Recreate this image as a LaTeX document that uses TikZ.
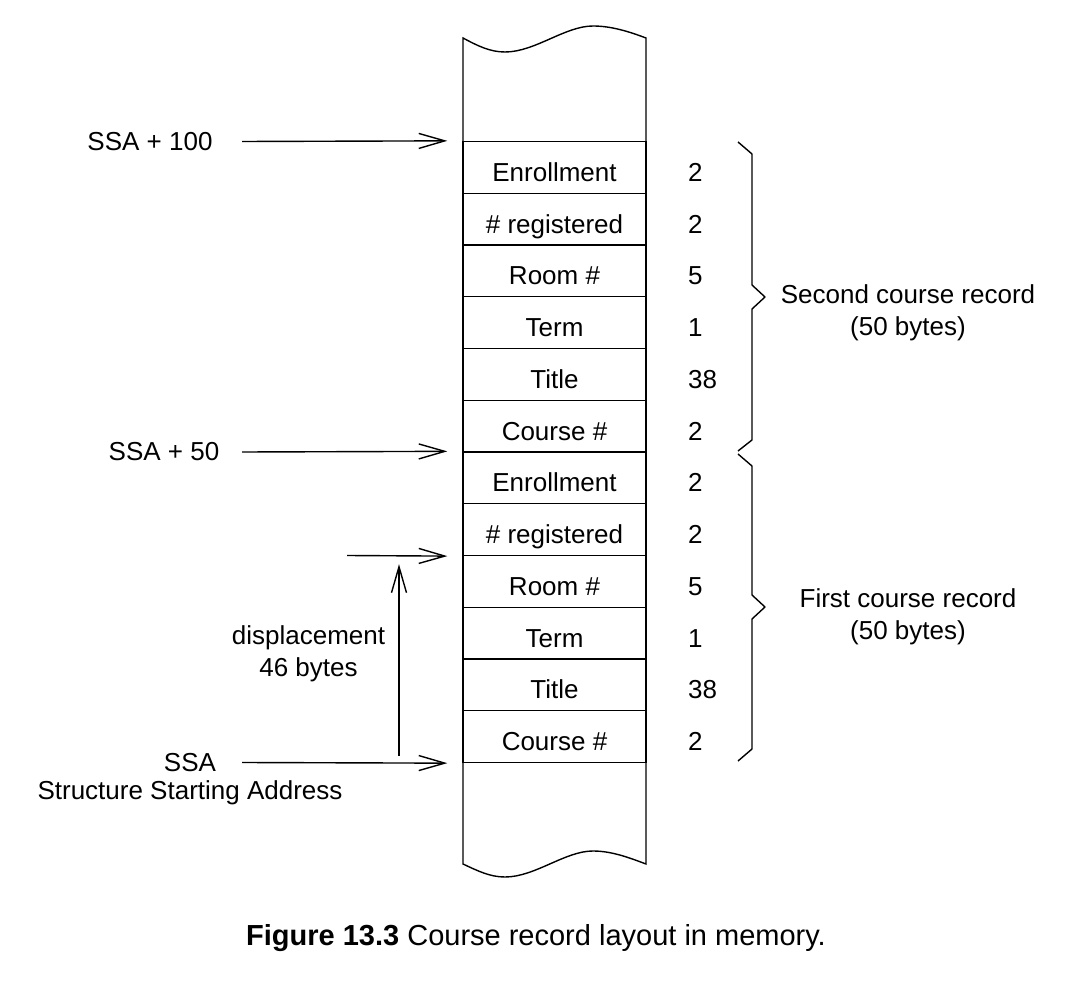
\documentclass[tikz,border=0pt]{standalone}
\usepackage{fontspec}
\setmainfont{Liberation Sans}
\usetikzlibrary{positioning,arrows.meta}

\begin{document}
\begin{tikzpicture}[
      x=0.5pt, y=-0.5pt,
      cell/.style={draw, line width=0.7pt, minimum width=91.5pt,
                   minimum height=25.875pt, inner sep=0pt,
                   text height=14pt, text depth=0pt},
      num/.style={inner sep=0pt, anchor=west, text height=14pt, text depth=0pt},
      lbl/.style={inner sep=0pt},
      arr/.style={-{Straight Barb[length=13pt,width=7.5pt]}, line width=0.7pt,
                  shorten >=7.5pt},
      brc/.style={line width=0.7pt, line join=round},
      font=\fontsize{13}{16}\selectfont
    ]
    \useasboundingbox (0,0) rectangle (1072,984);
    % Memory column with torn ends
    \draw[line width=0.7pt] (463,38) .. controls (478,46) and (490,52) .. (505,52)
      .. controls (535,52) and (565,26) .. (593,26)
      .. controls (612,26) and (630,32) .. (646,38) -- (646,864)
      .. controls (630,858) and (612,851) .. (593,851)
      .. controls (565,851) and (535,877) .. (505,877)
      .. controls (490,877) and (478,871) .. (463,864) -- cycle;
    % Record fields (s = second record, f = first record)
    \foreach \rec/\top in {s/141.5, f/452}{
      \foreach \fld/\len [count=\i] in {Enrollment/2, \# registered/2, Room \#/5,
                                        Term/1, Title/38, Course \#/2}{
        \node[cell] (\rec\i) at (554.5, {\top+51.75*\i-25.875}) {\fld};
        \node[num, right=20.5pt of \rec\i] (\rec\i-len) {\len};
      }
    }
    % Braces
    \draw[brc] (738,142) -- (752,154) -- (752,285) -- (765,297) -- (752,309)
      -- (752,440) -- (738,451);
    \draw[brc] (738,454) -- (752,466) -- (752,595) -- (765,607) -- (752,619)
      -- (752,749) -- (738,761);
    \node[lbl, align=center] (rec2) at (908,313) {Second course record\\(50 bytes)};
    \node[lbl, align=center] (rec1) at (908,617) {First course record\\(50 bytes)};
    % Addresses
    \node[lbl] (ssa100) at (150,141.5) {SSA + 100};
    \node[lbl] (ssa50)  at (164,452) {SSA + 50};
    \node[lbl] (ssa)    at (190,762.5) {SSA};
    \node[lbl] (ssadesc) at (190,793) {Structure Starting Address};
    \coordinate (t100) at (242,141.5);
    \coordinate (t50)  at (242,452);
    \coordinate (t0)   at (242,762.5);
    \coordinate (tdisp) at (347,555.5);
    \coordinate (dfoot) at (399,762.5);
    \draw[arr] (t100)  -- (s1.north west);
    \draw[arr] (t50)   -- (f1.north west);
    \draw[arr] (t0)    -- (f6.south west);
    \draw[arr] (tdisp) -- (f2.south west);
    % Displacement
    \draw[arr, shorten <=3.5pt, shorten >=4pt] (dfoot) -- (dfoot |- f2.south west);
    \node[lbl, align=center] (disp) at (308.5,654) {displacement\\46 bytes};
    % Caption
    \node (caption) at (536,938) {\fontsize{14.5}{17}\selectfont
      \textbf{Figure 13.3} Course record layout in memory.};
\end{tikzpicture}
\end{document}
